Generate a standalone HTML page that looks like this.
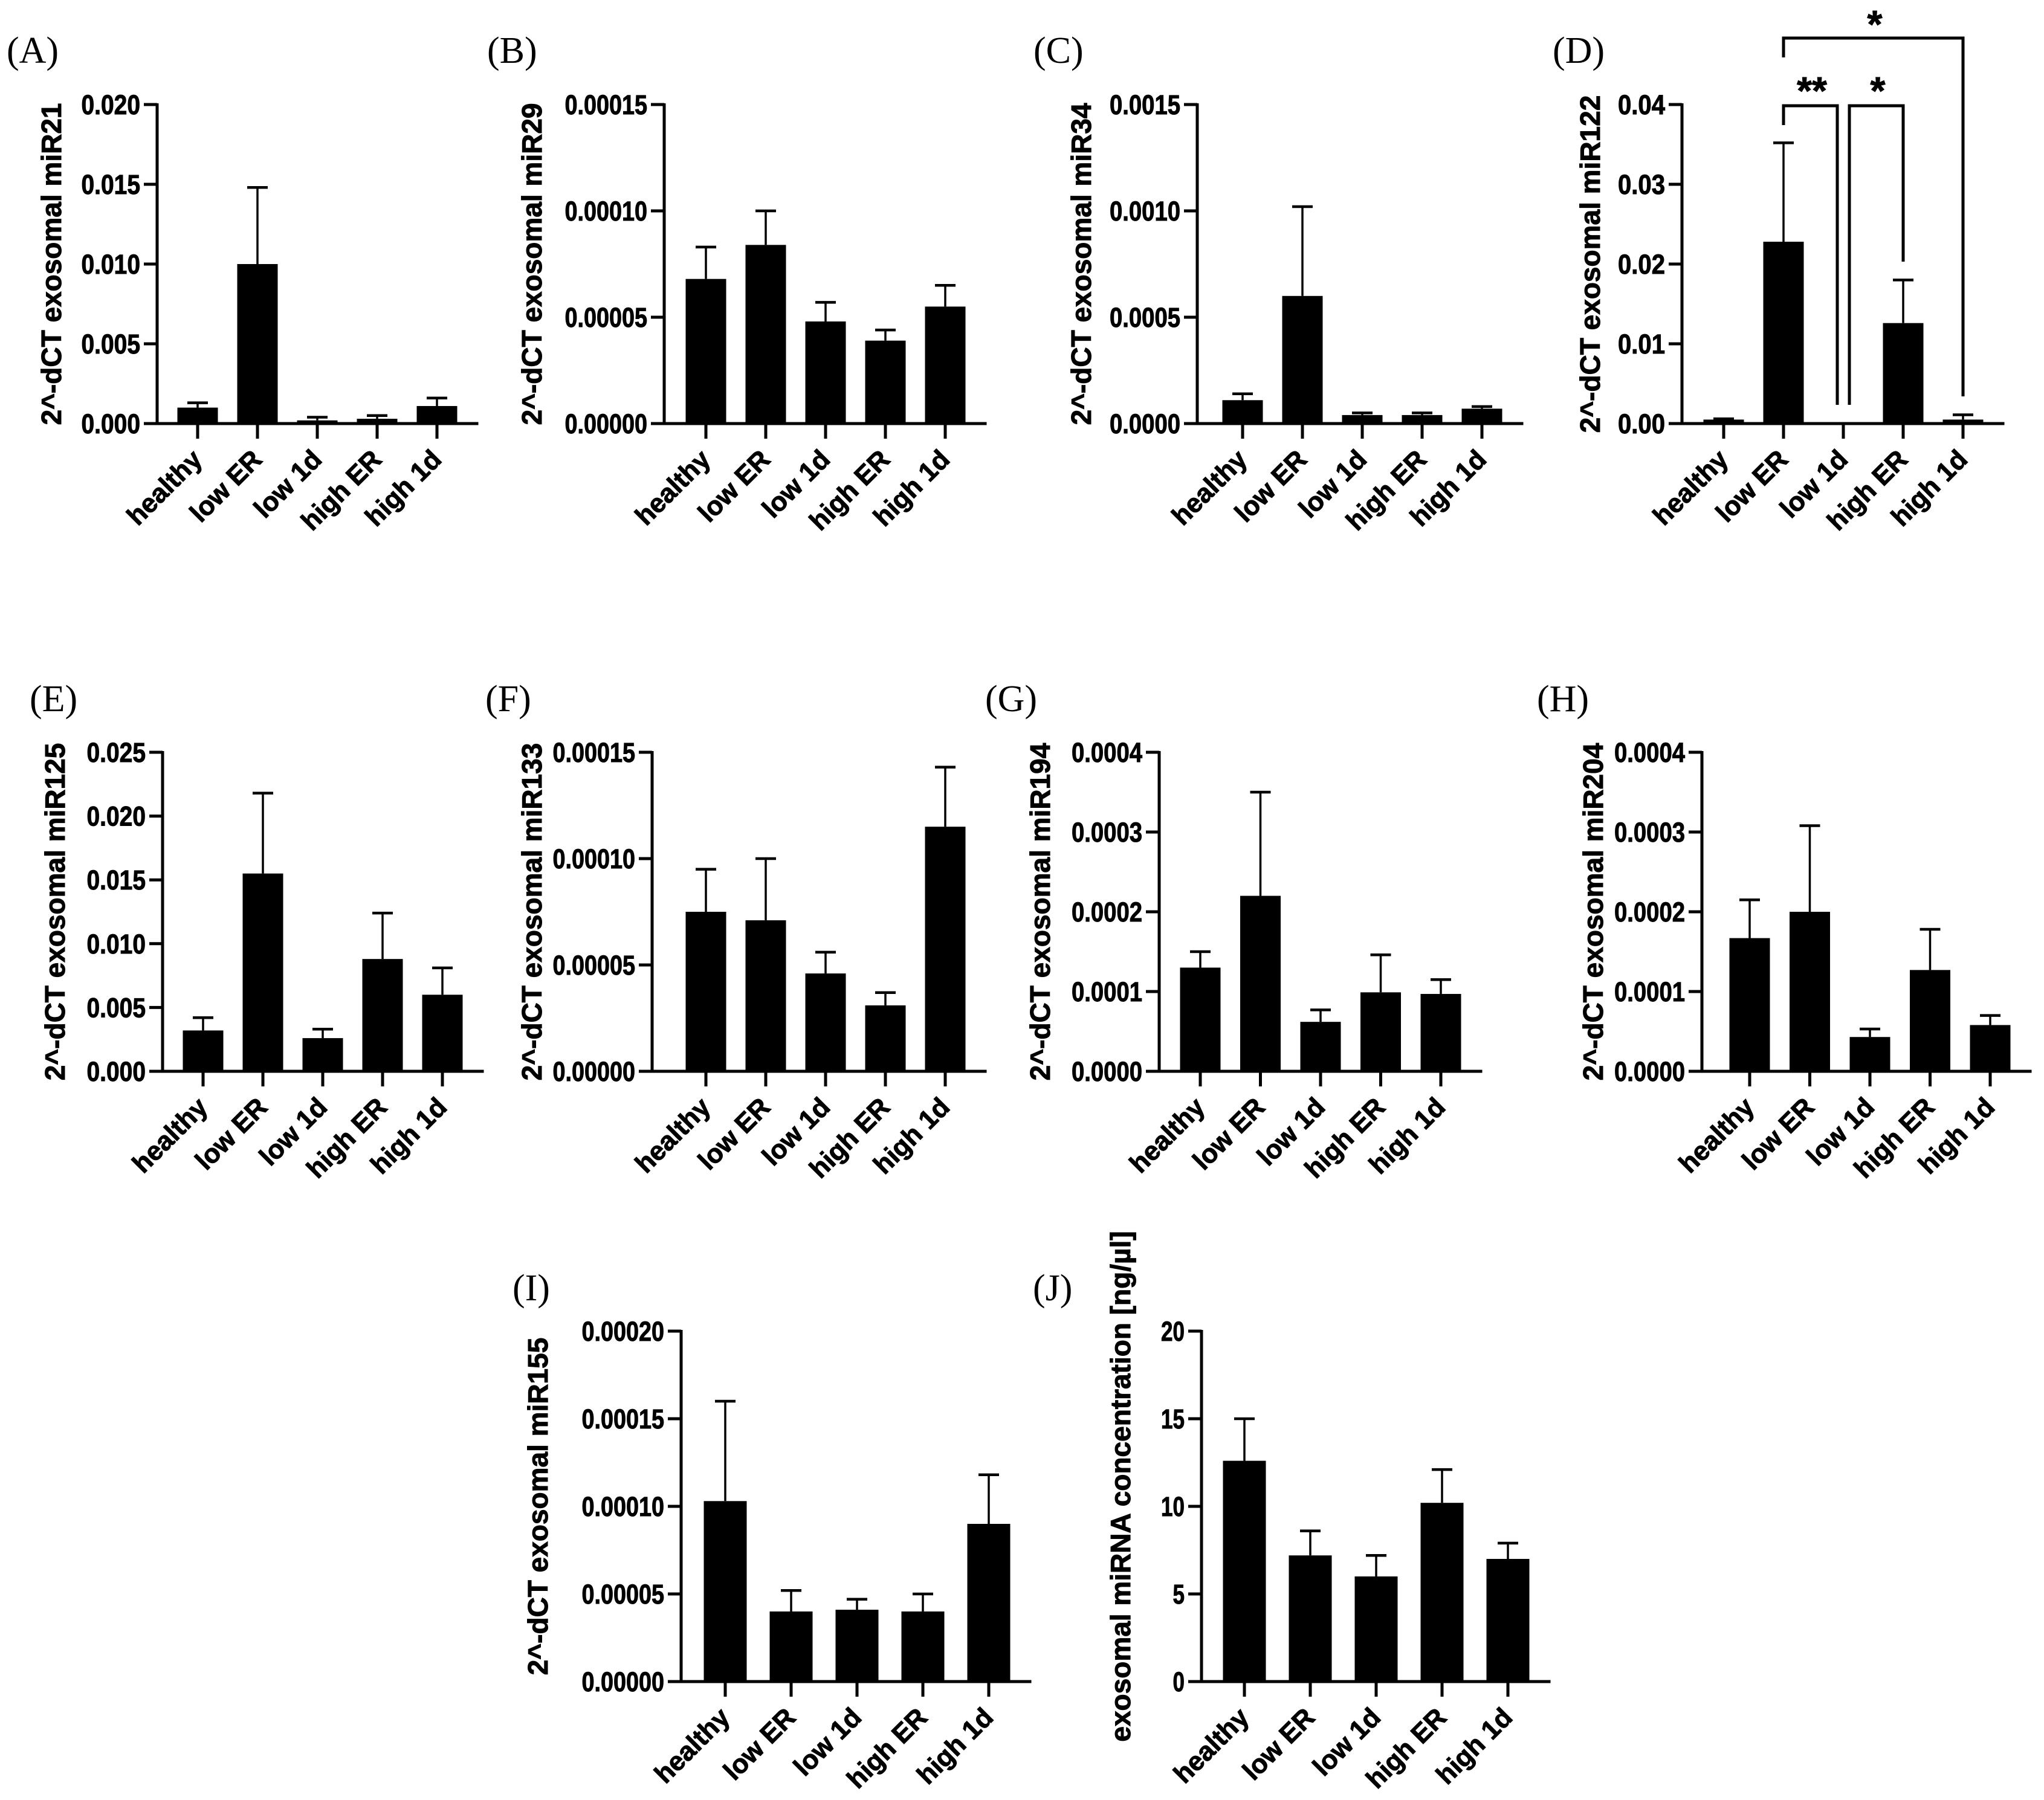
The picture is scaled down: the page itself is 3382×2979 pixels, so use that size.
<!DOCTYPE html>
<html><head><meta charset="utf-8"><style>
html,body{margin:0;padding:0;background:#fff;}
svg{display:block;}
text{font-family:"Liberation Sans",Arial,sans-serif;font-weight:bold;fill:#000;stroke:#000;stroke-width:1;}
.pl{font-family:"Liberation Serif",serif;font-weight:normal;font-size:62px;stroke:none;}
</style></head><body>
<svg id="fig" width="3382" height="2979" viewBox="0 0 3382 2979" xmlns="http://www.w3.org/2000/svg"></svg>
<script>
const categories = ["healthy","low ER","low 1d","high ER","high 1d"];
const valsA = [0.001,0.010,0.0002,0.0003,0.0011];
const errA  = [0.0013,0.0148,0.0004,0.0005,0.0016];
const ticksA = ["0.000","0.005","0.010","0.015","0.020"];
const valsB = [0.000068,0.000084,0.000048,0.000039,0.000055];
const errB  = [0.000083,0.0001,0.000057,0.000044,0.000065];
const ticksB = ["0.00000","0.00005","0.00010","0.00015"];
const valsC = [0.00011,0.0006,0.00004,0.00004,0.00007];
const errC  = [0.00014,0.00102,0.00005,0.00005,0.00008];
const ticksC = ["0.0000","0.0005","0.0010","0.0015"];
const valsD = [0.0005,0.0228,0,0.0126,0.0005];
const errD  = [0.0006,0.0352,0,0.018,0.0011];
const ticksD = ["0.00","0.01","0.02","0.03","0.04"];
const valsE = [0.0032,0.0155,0.0026,0.0088,0.006];
const errE  = [0.0042,0.0218,0.0033,0.0124,0.0081];
const ticksE = ["0.000","0.005","0.010","0.015","0.020","0.025"];
const valsF = [0.000075,0.000071,0.000046,0.000031,0.000115];
const errF  = [0.000095,0.0001,0.000056,0.000037,0.000143];
const ticksF = ["0.00000","0.00005","0.00010","0.00015"];
const valsG = [0.00013,0.00022,0.000062,0.000099,0.000097];
const errG  = [0.00015,0.00035,0.000077,0.000146,0.000115];
const ticksG = ["0.0000","0.0001","0.0002","0.0003","0.0004"];
const valsH = [0.000167,0.0002,0.000043,0.000127,0.000058];
const errH  = [0.000215,0.000308,0.000053,0.000178,0.00007];
const ticksH = ["0.0000","0.0001","0.0002","0.0003","0.0004"];
const valsI = [0.000103,0.00004,0.000041,0.00004,0.00009];
const errI  = [0.00016,0.000052,0.000047,0.00005,0.000118];
const ticksI = ["0.00000","0.00005","0.00010","0.00015","0.00020"];
const valsJ = [12.6,7.2,6.0,10.2,7.0];
const errJ  = [15,8.6,7.2,12.1,7.9];
const ticksJ = ["0","5","10","15","20"];

const NS="http://www.w3.org/2000/svg";
const svg=document.getElementById('fig');
function mk(tag,attrs,parent){const e=document.createElementNS(NS,tag);for(const k in attrs)e.setAttribute(k,attrs[k]);(parent||svg).appendChild(e);return e;}

const panels=[
 {id:"a",label:"(A)",lx:11,ly:104,ax:260,top:173,zero:701,x0:327,dx:99,vals:valsA,err:errA,ticks:ticksA,title:"2^-dCT exosomal miR21",tx:89,bw:67},
 {id:"b",label:"(B)",lx:806,ly:104,ax:1099,top:173,zero:701,x0:1168,dx:99,vals:valsB,err:errB,ticks:ticksB,title:"2^-dCT exosomal miR29",tx:884,bw:67},
 {id:"c",label:"(C)",lx:1710,ly:104,ax:1981,top:173,zero:701,x0:2056,dx:99,vals:valsC,err:errC,ticks:ticksC,title:"2^-dCT exosomal miR34",tx:1793,bw:67},
 {id:"d",label:"(D)",lx:2569,ly:104,ax:2783,top:173,zero:701,x0:2852,dx:99,vals:valsD,err:errD,ticks:ticksD,title:"2^-dCT exosomal miR122",tx:2635,bw:67},
 {id:"e",label:"(E)",lx:49,ly:1177,ax:269,top:1245,zero:1773,x0:336,dx:99,vals:valsE,err:errE,ticks:ticksE,title:"2^-dCT exosomal miR125",tx:95,bw:67},
 {id:"f",label:"(F)",lx:803,ly:1177,ax:1079,top:1245,zero:1773,x0:1168,dx:99,vals:valsF,err:errF,ticks:ticksF,title:"2^-dCT exosomal miR133",tx:884,bw:67},
 {id:"g",label:"(G)",lx:1630,ly:1177,ax:1918,top:1245,zero:1773,x0:1986,dx:99.5,vals:valsG,err:errG,ticks:ticksG,title:"2^-dCT exosomal miR194",tx:1725,bw:67},
 {id:"h",label:"(H)",lx:2543,ly:1177,ax:2816,top:1245,zero:1773,x0:2895,dx:99.5,vals:valsH,err:errH,ticks:ticksH,title:"2^-dCT exosomal miR204",tx:2640,bw:67},
 {id:"i",label:"(I)",lx:848,ly:2152,ax:1127,top:2203,zero:2783,x0:1200,dx:109,vals:valsI,err:errI,ticks:ticksI,title:"2^-dCT exosomal miR155",tx:894,bw:71},
 {id:"j",label:"(J)",lx:1709,ly:2152,ax:1988,top:2203,zero:2783,x0:2059,dx:109,vals:valsJ,err:errJ,ticks:ticksJ,title:"exosomal miRNA concentration [ng/µl]",tx:1858,bw:71,tcy:2460}
];

panels.forEach(p=>{
  const g=mk('g',{});
  
  
  const maxV=parseFloat(p.ticks[p.ticks.length-1]);
  const y=v=>p.zero-(v/maxV)*(p.zero-p.top);
  const x=i=>p.x0+i*p.dx;
  const xEnd=x(4)+p.bw/2+35;
  const lab=mk('text',{x:p.lx,y:p.ly,class:'pl'},g);lab.textContent=p.label;
  
  
  p.vals.forEach((v,i)=>{
    const cx=x(i);
    if(p.err[i]>v){
      const e=mk('line',{x1:cx,x2:cx,y1:y(v),y2:y(p.err[i]),stroke:'#000','stroke-width':3.5},g);
      
      
      const c=mk('line',{x1:cx-17,x2:cx+17,y1:y(p.err[i]),y2:y(p.err[i]),stroke:'#000','stroke-width':4.5},g);
      
      
    }
    const r=mk('rect',{x:cx-p.bw/2,y:y(v),width:p.bw,height:Math.max(0,p.zero-y(v)),fill:'#000'},g);
    
    
    const t=mk('line',{x1:cx,x2:cx,y1:p.zero,y2:p.zero+25,stroke:'#000','stroke-width':5},g);
    
    
    const tl=mk('text',{x:cx+10,y:p.zero+62,'text-anchor':'end','font-size':44,transform:`rotate(-45 ${cx+10} ${p.zero+62})`},g);
    tl.textContent=categories[i];
    
    
  });
  const ya=mk('line',{x1:p.ax,x2:p.ax,y1:p.top-2,y2:p.zero+2.5,stroke:'#000','stroke-width':5},g);
  
  
  const xa=mk('line',{x1:p.ax-22,x2:xEnd,y1:p.zero,y2:p.zero,stroke:'#000','stroke-width':5},g);
  
  
  p.ticks.forEach(tk=>{
    const ty=y(parseFloat(tk));
    const l=mk('line',{x1:p.ax-22,x2:p.ax,y1:ty,y2:ty,stroke:'#000','stroke-width':5},g);
    
    
    const tt=mk('text',{x:p.ax-28,y:ty+16,'text-anchor':'end','font-size':45},g);
    tt.textContent=tk;
    tt.setAttribute('textLength', tk.length*19.5);
    tt.setAttribute('lengthAdjust','spacingAndGlyphs');
    
    
  });
  const cy=p.tcy||(p.top+p.zero)/2;
  const yt=mk('text',{x:p.tx,y:cy,'text-anchor':'middle','dominant-baseline':'middle','font-size':46,transform:`rotate(-90 ${p.tx} ${cy})`},g);
  yt.textContent=p.title;
  
  
  if(p.id==='d'){
    const br=[[x(1),x(4),63,95,656,'*',3102,38],[x(1),x(2)-10,175,207,670,'**',2998,148],[x(2)+10,x(3),175,670,433,'*',3107,148]];
    br.forEach((b,k)=>{
      const pl=mk('polyline',{points:`${b[0]},${b[3]} ${b[0]},${b[2]} ${b[1]},${b[2]} ${b[1]},${b[4]}`,fill:'none',stroke:'#000','stroke-width':5},g);
      
      
      const st=mk('text',{x:b[6],y:b[7]+24,'text-anchor':'middle','font-size':64},g);
      st.textContent=b[5];
      
      
    });
  }
});
</script>
</body></html>
